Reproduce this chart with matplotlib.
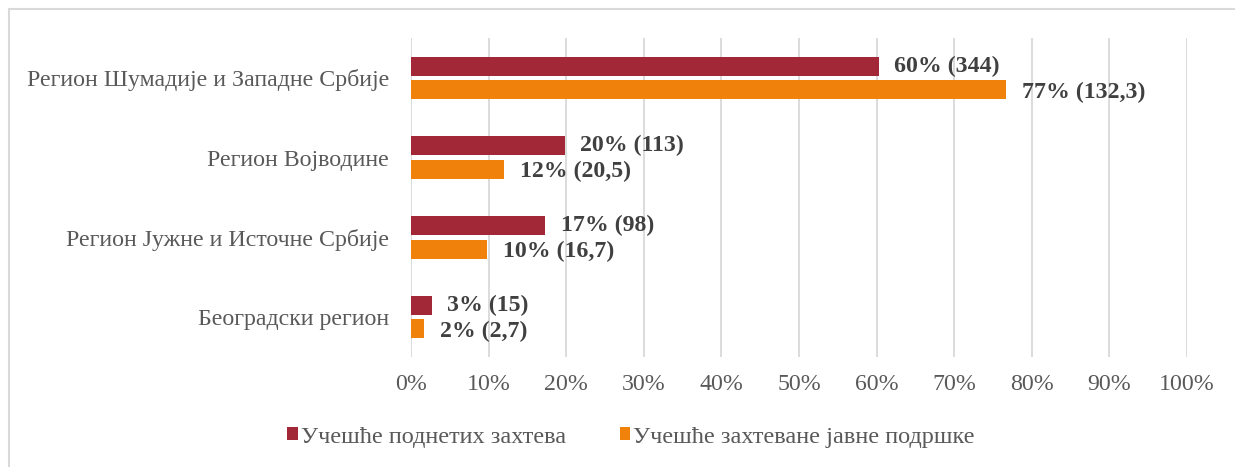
import matplotlib.pyplot as plt
from matplotlib.patches import Rectangle
import numpy as np

regions = ["Регион Шумадије и Западне Србије", "Регион Војводине",
           "Регион Јужне и Источне Србије", "Београдски регион"]
share_requests = [60.3, 19.8, 17.3, 2.7]
share_support = [76.7, 12.0, 9.8, 1.7]
labels_requests = ["60% (344)", "20% (113)", "17% (98)", "3% (15)"]
labels_support = ["77% (132,3)", "12% (20,5)", "10% (16,7)", "2% (2,7)"]
series_names = ["Учешће поднетих захтева", "Учешће захтеване јавне подршке"]

RED = "#A22838"
ORANGE = "#F0820C"

plt.rcParams["font.family"] = ["Liberation Serif", "DejaVu Serif"]

W, H = 1235, 467
fig = plt.figure(figsize=(W / 100, H / 100), dpi=100)
ax = fig.add_axes([411 / W, 1 - 357 / H, 776 / W, 319 / H])

y = np.arange(len(regions))
h = 0.24
off = 0.147
ax.barh(y - off, share_requests, height=h, color=RED, label=series_names[0], zorder=3)
ax.barh(y + off, share_support, height=h, color=ORANGE, label=series_names[1], zorder=3)

for yi, v, t in zip(y, share_requests, labels_requests):
    ax.text(v + 2.0, yi - off, t, va="center", ha="left", fontsize=17.2,
            fontweight="bold", color="#404040")
for yi, v, t in zip(y, share_support, labels_support):
    ax.text(v + 2.0, yi + off + 0.03, t, va="center", ha="left", fontsize=17.2,
            fontweight="bold", color="#404040")

ax.set_xlim(0, 100)
ax.set_ylim(len(regions) - 0.5, -0.5)
ax.set_xticks(np.arange(0, 101, 10))
ax.set_xticklabels([f"{v}%" for v in range(0, 101, 10)])
ax.set_yticks(y)
ax.set_yticklabels(regions)
ax.tick_params(axis="both", length=0, labelsize=17.2, labelcolor="#595959")
ax.tick_params(axis="x", pad=12)
ax.tick_params(axis="y", pad=16)
ax.grid(axis="x", color="#D9D9D9", linewidth=1.3, zorder=0)
for s in ax.spines.values():
    s.set_visible(False)

fig.legend(loc="center", bbox_to_anchor=(631 / W, 1 - 437 / H), ncol=2,
           frameon=False, fontsize=17.5, handlelength=0.45, handleheight=0.45,
           handletextpad=0.12, columnspacing=2.2, labelcolor="#595959")

fig.patches.append(Rectangle((9 / W, -0.1), 1.2, 1 - 9 / H + 0.1,
                             transform=fig.transFigure, fill=False,
                             edgecolor="#D9D9D9", linewidth=1.5))

fig.savefig("out.png", dpi=100)
